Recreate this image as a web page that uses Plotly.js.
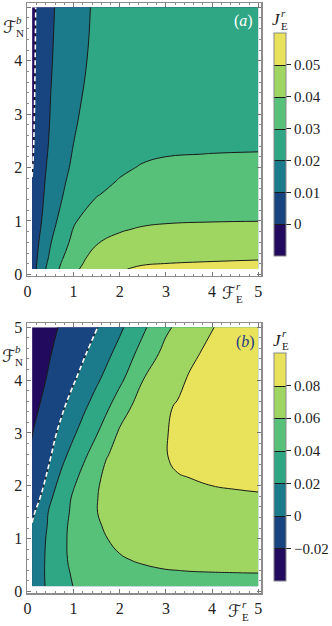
<!DOCTYPE html>
<html>
<head>
<meta charset="utf-8">
<script src="https://cdn.plot.ly/plotly-3.0.1.min.js"></script>
<style>body{margin:0;background:#fff;}</style>
</head>
<body>
<div id="g0" style="width:332px;height:626px;"></div>
<script>
// panel (a) grid
const xa = [0.1, 0.2, 0.35, 0.5, 0.75, 1, 1.5, 2, 2.25, 2.5, 3, 4, 5];
const ya = [0.1, 0.2, 0.3, 0.6, 1, 1.5, 1.75, 2, 2.25, 2.5, 3, 4, 5];
const za = [
  [0.005, 0.0105, 0.018, 0.0245, 0.032, 0.0385, 0.0445, 0.049, 0.0505, 0.052, 0.0535, 0.0545, 0.055],
  [0.005, 0.0100, 0.017, 0.0233, 0.0308, 0.0373, 0.0440, 0.0472, 0.0482, 0.0492, 0.0501, 0.0507, 0.0511],
  [0.005, 0.0095, 0.016, 0.022, 0.0295, 0.036, 0.0435, 0.0455, 0.0465, 0.0475, 0.0485, 0.049, 0.0495],
  [0.004, 0.008, 0.0145, 0.0195, 0.027, 0.032, 0.0395, 0.0425, 0.0435, 0.0445, 0.0455, 0.046, 0.0465],
  [0.003, 0.0065, 0.0115, 0.0165, 0.023, 0.0292, 0.0345, 0.037, 0.0378, 0.0385, 0.0392, 0.0397, 0.0399],
  [0.001, 0.0045, 0.0098, 0.0135, 0.0195, 0.024, 0.0295, 0.0325, 0.0333, 0.034, 0.0348, 0.0352, 0.0355],
  [0.0002, 0.0037, 0.0093, 0.0128, 0.0185, 0.0228, 0.0278, 0.0304, 0.0313, 0.0322, 0.033, 0.0334, 0.0336],
  [-0.0005, 0.003, 0.0088, 0.012, 0.0175, 0.0215, 0.0265, 0.0288, 0.0297, 0.0305, 0.0313, 0.0317, 0.0319],
  [-0.001, 0.0027, 0.0081, 0.0115, 0.0166, 0.0207, 0.0255, 0.0277, 0.0285, 0.029, 0.0297, 0.0301, 0.0303],
  [-0.0015, 0.0025, 0.0075, 0.011, 0.0158, 0.0199, 0.0245, 0.0268, 0.0273, 0.0278, 0.0282, 0.0285, 0.0286],
  [-0.002, 0.002, 0.0065, 0.0103, 0.0148, 0.019, 0.0232, 0.0256, 0.0262, 0.0268, 0.0275, 0.028, 0.0282],
  [-0.003, 0.0015, 0.0058, 0.0093, 0.0135, 0.017, 0.0222, 0.0242, 0.0247, 0.0252, 0.026, 0.0266, 0.0268],
  [-0.0035, 0.001, 0.0052, 0.0085, 0.0128, 0.016, 0.0215, 0.0236, 0.0241, 0.0246, 0.0252, 0.0258, 0.026]
];
const levelsA = [0, 0.01, 0.02, 0.03, 0.04, 0.05];
const labelsA = ['0', '0.01', '0.02', '0.03', '0.04', '0.05'];

// panel (b) grid
const xb = [0.1, 0.25, 0.5, 0.75, 1, 1.25, 1.5, 1.75, 2, 2.5, 3, 3.25, 3.5, 4, 4.5, 5];
const yb = [0.1, 0.35, 0.6, 1, 1.25, 1.5, 1.75, 2, 2.5, 3, 3.5, 4, 4.5, 5];
const zb = [
  [0.007, 0.0145, 0.025, 0.033, 0.0405, 0.0435, 0.046, 0.0475, 0.0485, 0.05, 0.0508, 0.051, 0.0513, 0.0517, 0.052, 0.0522],
  [0.008, 0.0148, 0.0255, 0.0345, 0.0425, 0.047, 0.05, 0.052, 0.0545, 0.0572, 0.0588, 0.0591, 0.0594, 0.0597, 0.0599, 0.0601],
  [0.008, 0.0145, 0.0255, 0.036, 0.0445, 0.05, 0.0535, 0.0565, 0.0588, 0.0615, 0.0632, 0.0637, 0.0642, 0.0648, 0.0652, 0.0655],
  [0.006, 0.013, 0.025, 0.036, 0.0455, 0.052, 0.0565, 0.0602, 0.063, 0.0665, 0.0688, 0.0696, 0.0703, 0.0713, 0.072, 0.0725],
  [0.001, 0.0095, 0.0243, 0.0355, 0.0448, 0.0515, 0.0585, 0.062, 0.0648, 0.0685, 0.0709, 0.0717, 0.0724, 0.0734, 0.0741, 0.0746],
  [-0.004, 0.006, 0.0235, 0.034, 0.0435, 0.051, 0.0597, 0.0635, 0.0665, 0.0705, 0.073, 0.0738, 0.0745, 0.0755, 0.0762, 0.0767],
  [-0.009, -0.0012, 0.0183, 0.032, 0.0425, 0.0495, 0.0595, 0.0645, 0.068, 0.0725, 0.0751, 0.0762, 0.0767, 0.0778, 0.0784, 0.0789],
  [-0.014, -0.0085, 0.013, 0.0277, 0.039, 0.048, 0.0585, 0.065, 0.0695, 0.0745, 0.0772, 0.0785, 0.0789, 0.08, 0.0806, 0.081],
  [-0.018, -0.012, 0.0003, 0.0167, 0.029, 0.0398, 0.0525, 0.0615, 0.067, 0.0745, 0.0795, 0.0815, 0.0825, 0.0838, 0.0845, 0.0848],
  [-0.0205, -0.015, -0.0055, 0.005, 0.0175, 0.029, 0.0388, 0.0505, 0.0625, 0.072, 0.0795, 0.082, 0.0845, 0.0865, 0.0875, 0.088],
  [-0.026, -0.0202, -0.0118, -0.0025, 0.0075, 0.018, 0.0285, 0.0383, 0.051, 0.069, 0.0785, 0.081, 0.0835, 0.0865, 0.088, 0.0887],
  [-0.032, -0.025, -0.0165, -0.0088, -0.0015, 0.0075, 0.0173, 0.0267, 0.036, 0.0598, 0.0725, 0.0769, 0.0812, 0.0855, 0.0875, 0.0885],
  [-0.036, -0.03, -0.0205, -0.0135, -0.0072, -0.0008, 0.0078, 0.017, 0.0265, 0.047, 0.066, 0.0715, 0.077, 0.0835, 0.087, 0.0885],
  [-0.039, -0.034, -0.0245, -0.0175, -0.0115, -0.0062, -0.0007, 0.0075, 0.0165, 0.0365, 0.0565, 0.0633, 0.07, 0.0795, 0.085, 0.0875]
];
const levelsB = [-0.02, 0, 0.02, 0.04, 0.06, 0.08];
const labelsB = ['\u22120.02', '0', '0.02', '0.04', '0.06', '0.08'];

const bandColors = ['#220b5f', '#18447f', '#1c7b8a', '#2fa785', '#57c17a', '#9fd662', '#e8e35a'];
const scale = bandColors.map((c, i) => [i / (bandColors.length - 1), c]);

const serif = 'Liberation Serif, DejaVu Serif, serif';

function bar(y, len, vals, text) {
  return {
    x: 1.054, xanchor: 'left', xpad: 0,
    y: y, yanchor: 'middle', ypad: 0,
    len: len, thickness: 12,
    outlinecolor: '#888', outlinewidth: 1,
    ticks: 'outside', ticklen: 5, tickcolor: '#222', tickwidth: 1,
    tickmode: 'array', tickvals: vals, ticktext: text,
    tickfont: {family: serif, size: 15, color: '#222'}
  };
}

function filled(x, y, z, levels, zmin, zmax, axes, cb) {
  return {
    type: 'contour', x: x, y: y, z: z,
    xaxis: axes[0], yaxis: axes[1],
    autocontour: false,
    contours: {start: levels[0], end: levels[levels.length - 1], size: levels[1] - levels[0], coloring: 'fill'},
    zauto: false, zmin: zmin, zmax: zmax,
    colorscale: scale,
    line: {color: '#1a1a1a', width: 1, smoothing: 1.3},
    colorbar: cb,
    hoverinfo: 'skip'
  };
}

function zeroLine(x, y, z, axes) {
  return {
    type: 'contour', x: x, y: y, z: z,
    xaxis: axes[0], yaxis: axes[1],
    autocontour: false,
    contours: {start: 0, end: 0, size: 1, coloring: 'none'},
    line: {color: 'white', width: 1.6, dash: '5px,3px', smoothing: 1.3},
    showscale: false, hoverinfo: 'skip'
  };
}

const data = [
  filled(xa, ya, za, levelsA, -0.01, 0.06, ['x', 'y'], bar(0.760, 0.378, levelsA, labelsA)),
  zeroLine(xa, ya, za, ['x', 'y']),
  filled(xb, yb, zb, levelsB, -0.04, 0.10, ['x2', 'y2'], bar(0.2136, 0.3864, levelsB, labelsB)),
  zeroLine(xb, yb, zb, ['x2', 'y2'])
];

function axis(extra) {
  return Object.assign({
    range: [-0.01, 5.06],
    showgrid: false, zeroline: false,
    showline: true, linecolor: '#8c8c8c', linewidth: 1.5, mirror: 'allticks',
    ticks: 'inside', ticklen: 4, tickcolor: '#777', tickwidth: 1,
    tickvals: [0, 1, 2, 3, 4, 5],
    minor: {dtick: 0.2, ticks: 'inside', ticklen: 2, tickcolor: '#888'},
    tickfont: {family: serif, size: 16, color: '#222'}
  }, extra);
}

// stacked sub/superscript labels are built from three annotations each
function px(x) { return (x - 27) / 241; }
function py(y) { return (593 - y) / 590; }
function txt(s, x, y, size, color, extra) {
  return Object.assign({
    text: s, xref: 'paper', yref: 'paper', x: px(x), y: py(y),
    xanchor: 'center', yanchor: 'middle', showarrow: false,
    font: {family: serif, size: size, color: color || '#222'}
  }, extra || {});
}
function sym(main, sup, sub, x, y, dx, scriptFont) {
  return [
    txt(main, x, y, 17, '#222', {font: {family: scriptFont, size: 17, color: '#222'}, borderpad: 0}),
    txt('<i>' + sup + '</i>', x + dx, y - 7, 11, '#222', {borderpad: 0}),
    txt(sub, x + dx + 1, y + 6, 11, '#222', {borderpad: 0})
  ];
}

const script = 'DejaVu Serif, DejaVu Sans, serif';
const annotations = [].concat(
  sym('\u2131', 'b', 'N', 9, 27, 10, script),
  sym('\u2131', 'b', 'N', 8, 356, 10, script),
  sym('\u2131', 'r', 'E', 235, 293, 10, script),
  sym('\u2131', 'r', 'E', 241, 611, 10, script),
  sym('<i>J</i>', 'r', 'E', 284, 20, 7, serif),
  sym('<i>J</i>', 'r', 'E', 285, 340, 7, serif),
  [
    txt('(<i>a</i>)', 250, 21, 16, '#ffffff'),
    txt('(<i>b</i>)', 252, 342, 16, '#1f3a8a')
  ]
);

// white dotted mark on the colour bars where the dashed zero contour sits
const shapes = [
  {type: 'line', xref: 'paper', yref: 'paper', x0: px(281), x1: px(293), y0: py(224), y1: py(224),
   line: {color: 'white', width: 1.5, dash: 'dot'}},
  {type: 'line', xref: 'paper', yref: 'paper', x0: px(281), x1: px(293), y0: py(516), y1: py(516),
   line: {color: 'white', width: 1.5, dash: 'dot'}}
];

const layout = {
  width: 332, height: 626,
  margin: {l: 27, r: 64, t: 3, b: 33},
  paper_bgcolor: '#fff', plot_bgcolor: '#fff',
  font: {family: serif, size: 14, color: '#222'},
  showlegend: false,
  xaxis: axis({anchor: 'y', domain: [0, 1]}),
  yaxis: axis({anchor: 'x', domain: [0.5373, 1], range: [-0.03, 5.08]}),
  xaxis2: axis({anchor: 'y2', domain: [0, 1]}),
  yaxis2: axis({anchor: 'x2', domain: [0, 0.4576], range: [-0.03, 5.08]}),
  annotations: annotations,
  shapes: shapes
};

Plotly.newPlot('g0', data, layout, {staticPlot: true});
</script>
</body>
</html>
